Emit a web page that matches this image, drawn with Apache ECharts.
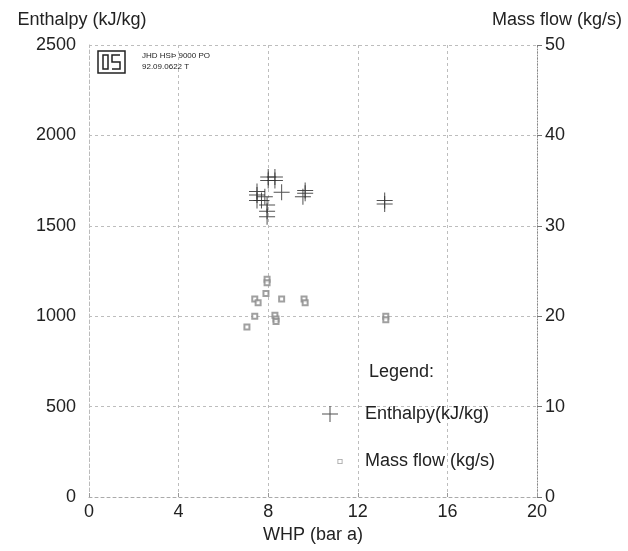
<!DOCTYPE html>
<html>
<head>
<meta charset="utf-8">
<script src="https://cdn.jsdelivr.net/npm/echarts@6/dist/echarts.min.js"></script>
<style>
  html, body { margin: 0; padding: 0; background: #fff; }
  #chart { width: 628px; height: 551px; }
</style>
</head>
<body>
<div id="chart"></div>
<script>
// x ticks / axis ranges
const whpTicks = [0, 4, 8, 12, 16, 20]
const enthalpyTicks = [0, 500, 1000, 1500, 2000, 2500]
const massFlowTicks = [0, 10, 20, 30, 40, 50]

// enthalpy points (WHP bar a, kJ/kg)
const whpEnthalpy = [8.0, 8.3, 8.0, 8.3, 8.6, 7.5, 7.5, 7.5, 7.7, 7.85, 7.95, 7.95, 7.95, 9.65, 9.65, 9.55, 13.2, 13.2]
const enthalpy = [1770, 1770, 1750, 1750, 1685, 1690, 1670, 1640, 1640, 1660, 1615, 1580, 1550, 1695, 1680, 1660, 1640, 1620]

// mass flow points (WHP bar a, kg/s)
const whpMassFlow = [7.95, 7.95, 7.9, 7.4, 7.55, 8.6, 9.6, 9.65, 7.4, 8.3, 8.35, 8.35, 7.05, 13.25, 13.25]
const massFlow = [24.1, 23.7, 22.5, 21.9, 21.5, 21.9, 21.9, 21.5, 20.0, 20.1, 19.7, 19.4, 18.8, 20.0, 19.6]

const FONT = 'Liberation Sans, Arial, sans-serif'
const plusPath = 'path://M0,7.5H16V8.5H0Z M7.5,0H8.5V16H7.5Z'
// legend icons laid out in a 45x20 box (tiny corner dots keep the box size)
const legendPlus = 'path://M0,0L0.01,0L0,0.01Z M45,20L44.99,20L45,19.99Z M7,9.5H23V10.5H7Z M14.5,2H15.5V18H14.5Z'
const legendSquare = 'path://M0,0L0.01,0L0,0.01Z M45,20L44.99,20L45,19.99Z M22.5,8H27.5V13H22.5Z M23.3,8.8V12.2H26.7V8.8Z'

const chart = echarts.init(document.getElementById('chart'))

const gridLine = { show: true, lineStyle: { color: '#bdbdbd', type: [3, 3], width: 1 } }
const plain = (v) => String(v)

chart.setOption({
  animation: false,
  backgroundColor: '#fff',
  textStyle: { fontFamily: FONT },
  title: {
    text: 'Legend:',
    left: 364,
    top: 358,
    textStyle: { fontFamily: FONT, fontSize: 18, fontWeight: 'normal', color: '#222' },
  },
  legend: {
    orient: 'vertical',
    left: 315,
    top: 404,
    padding: 0,
    itemWidth: 45,
    itemHeight: 20,
    itemGap: 27,
    itemStyle: { borderWidth: 0 },
    textStyle: { fontFamily: FONT, fontSize: 18, color: '#222' },
    data: [
      { name: 'Enthalpy(kJ/kg)', icon: legendPlus },
      { name: 'Mass flow (kg/s)', icon: legendSquare },
    ],
  },
  grid: { left: 89, right: 91, top: 45, bottom: 54 },
  xAxis: {
    type: 'value',
    min: whpTicks[0],
    max: whpTicks[whpTicks.length - 1],
    interval: 4,
    name: 'WHP (bar a)',
    nameLocation: 'middle',
    nameGap: 21,
    nameTextStyle: { fontFamily: FONT, fontSize: 18, color: '#222' },
    axisLine: { lineStyle: { color: '#aaa', type: [3, 3] } },
    axisTick: { show: true, inside: true, length: 4, lineStyle: { color: '#999' } },
    axisLabel: { fontSize: 18, color: '#222', margin: 6, formatter: plain },
    splitLine: gridLine,
  },
  yAxis: [
    {
      type: 'value',
      min: enthalpyTicks[0],
      max: enthalpyTicks[enthalpyTicks.length - 1],
      interval: 500,
      name: 'Enthalpy (kJ/kg)',
      nameLocation: 'end',
      nameGap: 16,
      nameTextStyle: { fontFamily: FONT, fontSize: 18, color: '#222', padding: [0, 14, 0, 0] },
      axisLine: { show: true, lineStyle: { color: '#bbb', type: [3, 3] } },
      axisTick: { show: false },
      axisLabel: { fontSize: 18, color: '#222', margin: 13, formatter: plain },
      splitLine: gridLine,
    },
    {
      type: 'value',
      position: 'right',
      min: massFlowTicks[0],
      max: massFlowTicks[massFlowTicks.length - 1],
      interval: 10,
      name: 'Mass flow (kg/s)',
      nameLocation: 'end',
      nameGap: 16,
      nameTextStyle: { fontFamily: FONT, fontSize: 18, color: '#222', padding: [0, 0, 0, 40] },
      axisLine: { show: true, lineStyle: { color: '#888', type: [1, 2] } },
      axisTick: { show: true, length: 5, lineStyle: { color: '#777' } },
      axisLabel: { fontSize: 18, color: '#222', margin: 8, formatter: plain },
      splitLine: { show: false },
    },
  ],
  graphic: [
    { type: 'rect', shape: { x: 98, y: 51, width: 27, height: 22 }, style: { fill: 'none', stroke: '#222', lineWidth: 1.5 } },
    { type: 'rect', shape: { x: 103, y: 55, width: 5, height: 14 }, style: { fill: 'none', stroke: '#222', lineWidth: 1.5 } },
    { type: 'polyline', shape: { points: [[120, 55], [112, 55], [112, 62], [120, 62], [120, 69], [112, 69]] }, style: { fill: 'none', stroke: '#222', lineWidth: 1.5 } },
    { type: 'text', left: 142, top: 52, style: { text: 'JHD HSÞ 9000 PO', fontFamily: FONT, fontSize: 8, fill: '#222' } },
    { type: 'text', left: 142, top: 63, style: { text: '92.09.0622 T', fontFamily: FONT, fontSize: 8, fill: '#222' } },
  ],
  series: [
    {
      name: 'Enthalpy(kJ/kg)',
      type: 'scatter',
      yAxisIndex: 0,
      symbol: plusPath,
      symbolSize: 16,
      itemStyle: { color: '#333', opacity: 0.85 },
      data: whpEnthalpy.map((x, i) => [x, enthalpy[i]]),
    },
    {
      name: 'Mass flow (kg/s)',
      type: 'scatter',
      yAxisIndex: 1,
      symbol: 'emptyRect',
      symbolSize: 5,
      itemStyle: { color: '#888', borderColor: '#888', borderWidth: 1 },
      data: whpMassFlow.map((x, i) => [x, massFlow[i]]),
    },
  ],
})
</script>
</body>
</html>
